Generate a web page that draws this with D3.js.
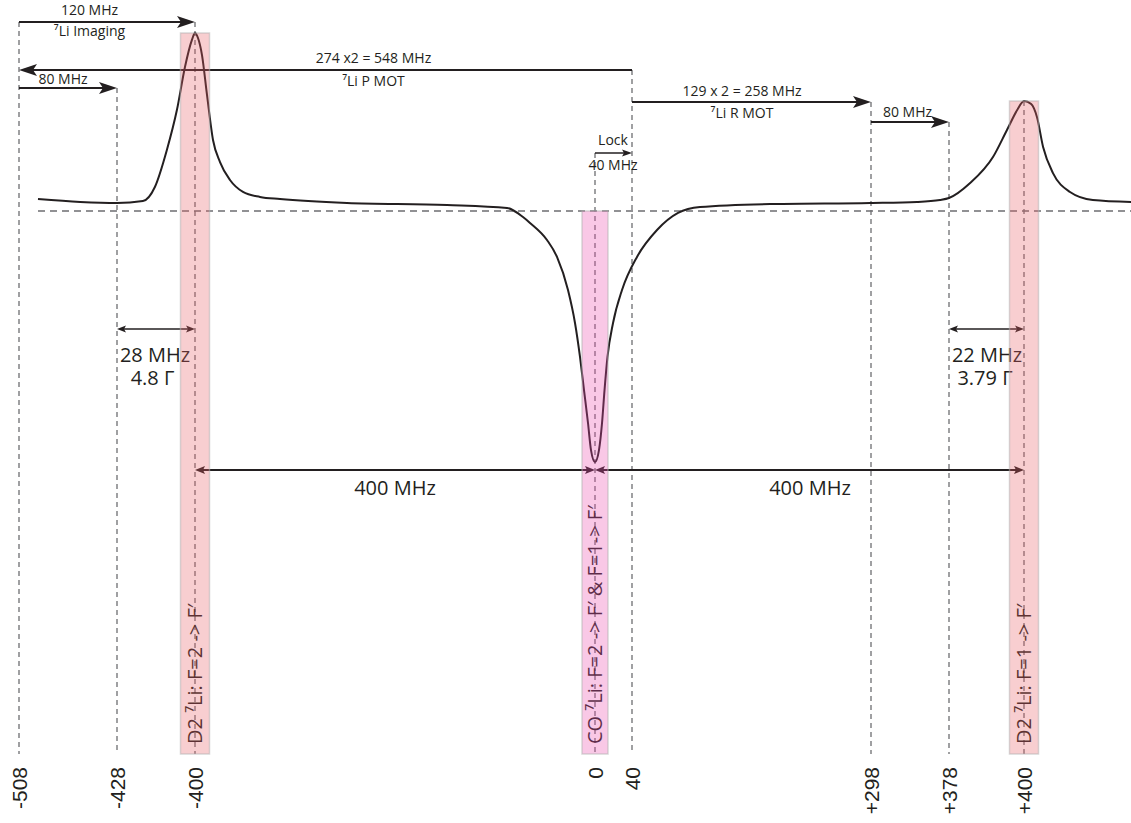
<!DOCTYPE html>
<html>
<head>
<meta charset="utf-8">
<script src="https://cdn.jsdelivr.net/npm/d3@7"></script>
<style>
  body { margin: 0; background: #fff; }
</style>
</head>
<body>
<div id="chart"></div>
<script>
// frequency marks along the bottom (MHz, relative to crossover)
const tickFreqs = [-508, -428, -400, 0, 40, 298, 378, 400];
const tickLabels = ["-508", "-428", "-400", "0", "40", "+298", "+378", "+400"];

// saturated absorption trace (MHz, arb. units, 0 = baseline)
const curveFreq = [-492.5, -458, -428, -418.7, -414.4, -410.1, -406.5, -403.6, -401.1, -400,
  -397, -393, -388, -382, -375, -365, -352, -335, -315, -248, -148, -88, -72, -65, -48, -38,
  -27, -20, -15, -11, -7, -4, 0, 4.3, 7.6, 10.3, 13.5, 19.5, 29.2, 45.4, 67, 89.7, 113.4,
  192.3, 297, 345.2, 368.8, 378, 384.2, 390.9, 395, 398, 400, 402.1, 403.8, 405.6, 408.5,
  413.5, 420.2, 431.4];
const curveSignal = [6.7, 5.1, 4.5, 5.6, 13.5, 34.3, 56.7, 80.9, 96.1, 100,
  97.2, 87.6, 65.2, 39.9, 27.5, 17.4, 10.7, 7.9, 6.7, 4.5, 3.4, 1.7, -3.4, -6.7, -16.3, -25.8,
  -44.4, -62.9, -82, -100.6, -119.1, -134.3, -141, -134.3, -119.1, -100.6, -82, -62.9, -44.4, -25.8, -10.7, -1.1, 2.2,
  3.9, 4.5, 5.1, 6.2, 7.3, 15.7, 30.3, 45.5, 56.7, 61.8, 60.1, 52.8, 36, 21.3,
  10.7, 6.2, 5.1];

// transitions (shaded bands)
const lineFreq = [-400, 0, 400];
const lineLabels = ["D2 \u2077Li: F=2 -> F\u2032", "CO \u2077Li: F=2 -> F\u2032 & F=1-> F\u2032", "D2 \u2077Li: F=1 -> F\u2032"];

// AOM shifts drawn as arrows at the top
const shiftFrom = [-508, 40, -508, 40, 298, 0];
const shiftTo = [-400, -508, -428, 298, 378, 40];
const shiftLabels = ["120 MHz", "274 x2 = 548 MHz", "80 MHz", "129 x 2 = 258 MHz", "80 MHz", "Lock"];
const shiftNotes = ["\u2077Li Imaging", "\u2077Li P MOT", "", "\u2077Li R MOT", "", "40 MHz"];

// spacings drawn as double arrows
const gapFrom = [-428, 378, -400, 0];
const gapTo = [-400, 400, 0, 400];
const gapLabels = ["28 MHz", "22 MHz", "400 MHz", "400 MHz"];
const gapNotes = ["4.8 \u0393", "3.79 \u0393", "", ""];

const W = 1131, H = 823;
const ink = "#231f20";
const font = "'Open Sans', sans-serif";

const svg = d3.select("#chart")
  .append("svg")
    .attr("width", W)
    .attr("height", H);

// schematic axis: piecewise so the small offsets stay readable
const x = d3.scaleLinear()
    .domain(tickFreqs)
    .range([19, 117, 195, 595, 632, 871, 949, 1024]);
const y = d3.scaleLinear()
    .domain([0, 100])
    .range([211, 33]);

const bottom = 754;

// vertical guides
const guideTop = [22, 88, 22, 153, 70, 102, 122, 101];
svg.append("g")
  .selectAll("line")
  .data(tickFreqs)
  .join("line")
    .attr("x1", d => x(d)).attr("x2", d => x(d))
    .attr("y1", (d, i) => guideTop[i]).attr("y2", bottom)
    .attr("stroke", "#6d6e71")
    .attr("stroke-width", 1.3)
    .attr("stroke-dasharray", "5,4");

// baseline
svg.append("line")
    .attr("x1", 38).attr("x2", W)
    .attr("y1", y(0)).attr("y2", y(0))
    .attr("stroke", "#6d6e71")
    .attr("stroke-width", 1.3)
    .attr("stroke-dasharray", "7,5");

// trace
const pts = curveFreq.map((f, i) => [f, curveSignal[i]]);
svg.append("path")
    .datum(pts)
    .attr("fill", "none")
    .attr("stroke", ink)
    .attr("stroke-width", 2)
    .attr("d", d3.line()
        .x(d => x(d[0]))
        .y(d => y(d[1]))
        .curve(d3.curveMonotoneX));

// arrow head: tip at (tx, ty), dir = +1 right / -1 left
function head(g, tx, ty, dir, len, half, notch) {
  g.append("path")
    .attr("d", `M${tx},${ty} L${tx - dir * len},${ty - half} L${tx - dir * (len - notch)},${ty} L${tx - dir * len},${ty + half} Z`)
    .attr("fill", ink);
}

// top shift arrows
const shiftY = [22, 70, 88, 102, 122, 153];
const shiftLabelX = [89.5, 373.5, 63, 742, 907.5, 613];
const shiftLabelY = [15, 63, 84, 96, 117, 145];
const shiftNoteY = [36, 86, 0, 118, 0, 170];
const arrows = svg.append("g");
shiftFrom.forEach((f, i) => {
  const x0 = x(f), x1 = x(shiftTo[i]), dir = x1 > x0 ? 1 : -1;
  const small = i === 5;
  const len = small ? 10 : 18;
  arrows.append("line")
      .attr("x1", x0).attr("x2", x1 - dir * (len - 4))
      .attr("y1", shiftY[i]).attr("y2", shiftY[i])
      .attr("stroke", ink)
      .attr("stroke-width", small ? 1.5 : 2);
  head(arrows, x1, shiftY[i], dir, len, small ? 3.5 : 6, small ? 2 : 4);
  arrows.append("text")
      .attr("x", shiftLabelX[i]).attr("y", shiftLabelY[i])
      .attr("text-anchor", "middle")
      .style("font-family", font).style("font-size", "14px")
      .attr("fill", ink)
      .text(shiftLabels[i]);
  if (shiftNotes[i]) {
    arrows.append("text")
        .attr("x", shiftLabelX[i]).attr("y", shiftNoteY[i])
        .attr("text-anchor", "middle")
        .style("font-family", font).style("font-size", "14px")
        .attr("fill", ink)
        .text(shiftNotes[i]);
  }
});

// double arrows for spacings
const gapY = [329, 329, 470, 470];
const gapLabelX = [155, 987, 395, 810];
const gapLabelY = [362, 362, 495, 495];
const gapNoteX = [152.5, 985];
gapFrom.forEach((f, i) => {
  const x0 = x(f), x1 = x(gapTo[i]);
  const big = i >= 2;
  const len = big ? 10 : 9, half = big ? 4 : 3.5;
  arrows.append("line")
      .attr("x1", x0 + len - 2).attr("x2", x1 - len + 2)
      .attr("y1", gapY[i]).attr("y2", gapY[i])
      .attr("stroke", ink)
      .attr("stroke-width", big ? 2 : 1.6);
  head(arrows, x0, gapY[i], -1, len, half, 2);
  head(arrows, x1, gapY[i], 1, len, half, 2);
  arrows.append("text")
      .attr("x", gapLabelX[i]).attr("y", gapLabelY[i])
      .attr("text-anchor", "middle")
      .style("font-family", font).style("font-size", "20px")
      .attr("fill", ink)
      .text(gapLabels[i]);
  if (gapNotes[i]) {
    arrows.append("text")
        .attr("x", gapNoteX[i]).attr("y", 385)
        .attr("text-anchor", "middle")
        .style("font-family", font).style("font-size", "20px")
        .attr("fill", ink)
        .text(gapNotes[i]);
  }
});

// transition labels, rotated
svg.append("g")
  .selectAll("text")
  .data(lineFreq)
  .join("text")
    .attr("transform", d => `translate(${x(d)},744) rotate(-90)`)
    .attr("dy", "0.36em")
    .style("font-family", font).style("font-size", "20px")
    .attr("fill", ink)
    .text((d, i) => lineLabels[i]);

// shaded bands on top, tinting what lies under them
const bandHalf = [14.5, 13, 14.5];
const bandTop = [y(100), y(0), y(61.8)];
const bandColor = ["#e85c62", "#eb48ac", "#e85c62"];
svg.append("g")
  .selectAll("rect")
  .data(lineFreq)
  .join("rect")
    .attr("x", (d, i) => x(d) - bandHalf[i])
    .attr("y", (d, i) => bandTop[i])
    .attr("width", (d, i) => bandHalf[i] * 2)
    .attr("height", (d, i) => bottom - bandTop[i])
    .attr("fill", (d, i) => bandColor[i])
    .attr("fill-opacity", 0.3)
    .attr("stroke", "#b0b0b0")
    .attr("stroke-opacity", 0.5)
    .attr("stroke-width", 1.5);

// frequency labels
const axis = svg.append("g")
    .attr("transform", "translate(0,767)")
    .call(d3.axisBottom(x)
        .tickValues(tickFreqs)
        .tickFormat((d, i) => tickLabels[i])
        .tickSize(0));
axis.select(".domain").remove();
axis.selectAll("text")
    .attr("transform", "rotate(-90)")
    .attr("x", 0).attr("y", 0)
    .attr("dy", "0.35em")
    .attr("text-anchor", "end")
    .style("font-family", "'Liberation Sans', Arial, sans-serif")
    .style("font-size", "21px")
    .attr("fill", ink);
</script>
</body>
</html>
